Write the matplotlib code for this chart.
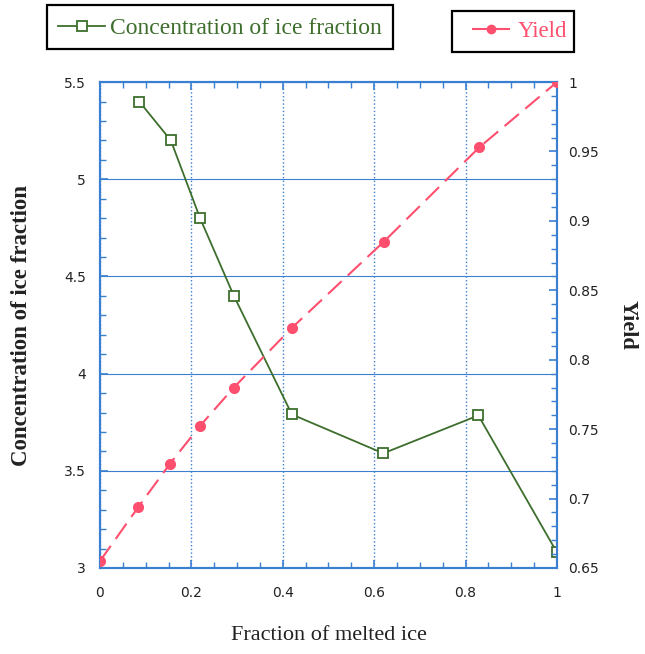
import matplotlib
matplotlib.use("Agg")
import matplotlib.pyplot as plt
from matplotlib.ticker import MultipleLocator, FormatStrFormatter
from matplotlib.lines import Line2D
from matplotlib.patches import Rectangle

# melted fraction for each sample
melted = [0.086, 0.155, 0.219, 0.293, 0.420, 0.620, 0.828, 1.0]
conc = [5.40, 5.20, 4.80, 4.40, 3.79, 3.59, 3.785, 3.08]

yield_x = [0.0, 0.084, 0.153, 0.218, 0.293, 0.420, 0.621, 0.830, 1.0]
yield_y = [0.655, 0.694, 0.725, 0.752, 0.780, 0.823, 0.885, 0.953, 1.0]

green = "#3d6e2c"
red = "#ff4f6e"
blue = "#3a7fd0"
serif = "Liberation Serif"

fig = plt.figure(figsize=(6.45, 6.54), dpi=100)
ax = fig.add_axes([0.155, 0.1315, 0.7085, 0.743])
ax2 = ax.twinx()

ax.plot(melted, conc, color=green, lw=1.3, marker="s", ms=7,
        mfc="white", mec=green, mew=1.3, zorder=3)
ax2.plot(yield_x, yield_y, color=red, lw=1.5, ls=(0, (9, 4)),
         marker="o", ms=7, mfc=red, mec=red, zorder=3)

ax.set_xlim(0, 1)
ax.set_ylim(3, 5.5)
ax2.set_ylim(0.65, 1.0)

ax.xaxis.set_major_locator(MultipleLocator(0.2))
ax.xaxis.set_minor_locator(MultipleLocator(0.05))
ax.yaxis.set_major_locator(MultipleLocator(0.5))
ax.yaxis.set_minor_locator(MultipleLocator(0.1))
ax2.yaxis.set_major_locator(MultipleLocator(0.05))
ax2.yaxis.set_minor_locator(MultipleLocator(0.01))
for a in (ax.xaxis, ax.yaxis, ax2.yaxis):
    a.set_major_formatter(FormatStrFormatter("%g"))

ax.grid(True, axis="x", which="major", color=blue, ls=":", lw=1.0)
ax.grid(True, axis="y", which="major", color=blue, ls="-", lw=0.8)

for a in (ax, ax2):
    for s in a.spines.values():
        s.set_color(blue)
        s.set_linewidth(1.5)
    a.tick_params(which="both", direction="in", color=blue,
                  labelsize=10, labelcolor="#222222")
    a.tick_params(which="major", length=6, width=1.2)
    a.tick_params(which="minor", length=4, width=1.0)
ax.tick_params(axis="x", which="both", top=True, pad=13)
ax.tick_params(axis="y", which="both", pad=10)
ax2.tick_params(axis="y", which="both", pad=8)

ax.set_xlabel("Fraction of melted ice", family=serif, fontsize=16,
              va="center", color="#222222")
ax.xaxis.set_label_coords(0.5, -0.138)
ax.set_ylabel("Concentration of ice fraction", family=serif, fontsize=16.5,
              fontweight="bold", va="center", color="#222222")
ax.yaxis.set_label_coords(-0.171, 0.5)
ax2.set_ylabel("Yield", family=serif, fontsize=16, fontweight="bold",
               rotation=270, va="center", color="#222222")
ax2.yaxis.set_label_coords(1.155, 0.5)

# two separate legend boxes above the plot
fig.add_artist(Rectangle((0.073, 0.925), 0.536, 0.067, transform=fig.transFigure,
                         fill=False, ec="black", lw=1.6))
fig.add_artist(Rectangle((0.701, 0.920), 0.189, 0.063, transform=fig.transFigure,
                         fill=False, ec="black", lw=1.6))

h1 = Line2D([], [], color=green, lw=1.3, marker="s", ms=7,
            mfc="white", mec=green, mew=1.3)
h2 = Line2D([], [], color=red, lw=1.5, marker="o", ms=6, mfc=red, mec=red)
fig.legend([h1], ["Concentration of ice fraction"], loc="center left",
           bbox_to_anchor=(0.09, 0.9567), frameon=False, borderpad=0,
           borderaxespad=0, handlelength=2.0, handletextpad=0.2,
           labelcolor=green, prop={"family": serif, "size": 17})
fig.legend([h2], ["Yield"], loc="center left",
           bbox_to_anchor=(0.733, 0.9518), frameon=False, borderpad=0,
           borderaxespad=0, handlelength=1.6, handletextpad=0.36,
           labelcolor=red, prop={"family": serif, "size": 16.5})

fig.savefig("out.png", dpi=100)
